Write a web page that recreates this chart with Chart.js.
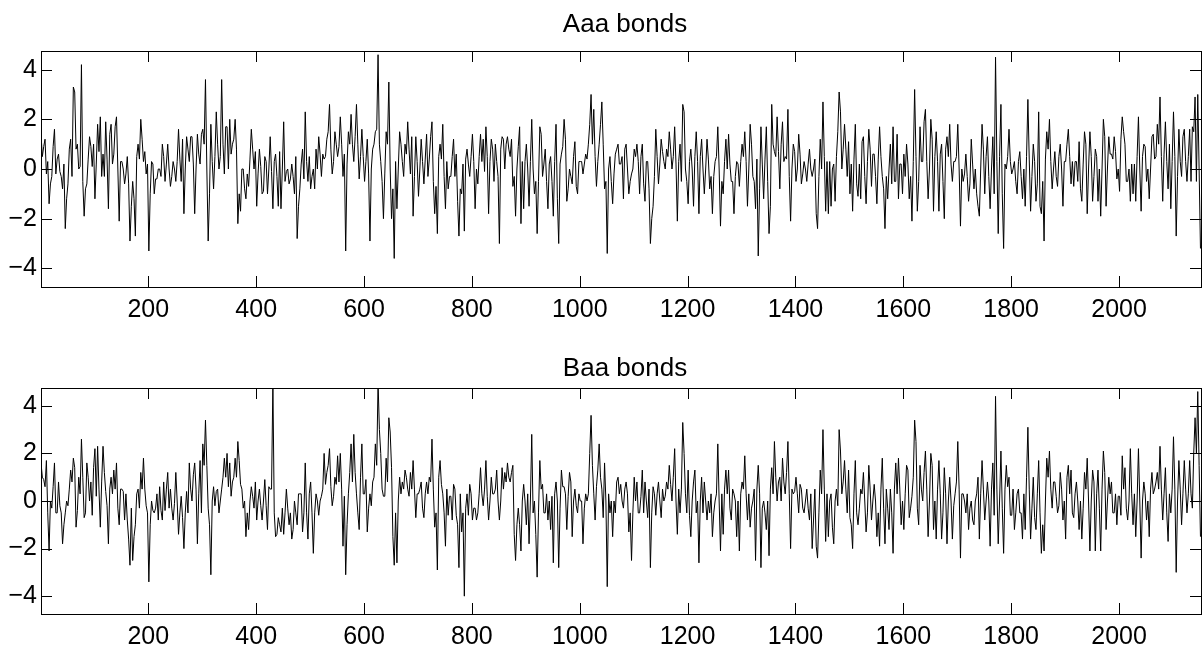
<!DOCTYPE html>
<html>
<head>
<meta charset="utf-8">
<title>Aaa and Baa bonds</title>
<script src="https://cdn.jsdelivr.net/npm/chart.js@4.4.0/dist/chart.umd.min.js"></script>
<style>
  body { margin: 0; background: #fff; width: 1202px; height: 646px; overflow: hidden; }
  canvas { position: absolute; left: 0; }
  #aaaChart { top: 0; }
  #baaChart { top: 326px; }
</style>
</head>
<body>
<canvas id="aaaChart" width="1202" height="330"></canvas>
<canvas id="baaChart" width="1202" height="320"></canvas>
<script>
// observation number of the k-th value = 1 + obsStep * k,
// the k-th "mid" value sits half a step later
const obsStep = 5;
const xTicks = [200, 400, 600, 800, 1000, 1200, 1400, 1600, 1800, 2000];
const yTicks = [-4, -2, 0, 2, 4];

const aaaVals = [
  1.4, 0.9, -0.2, -1.4, -0.3, 1.6, 0.4, -0.1, -0.8, -2.4,
  -0.6, 1.2, 3.3, 0.8, 0.0, 4.2, -1.9, -0.6, 1.3, 0.1,
  -1.2, 1.8, 2.1, 0.6, 1.9, -1.6, 1.8, 0.6, 2.1, -2.1,
  0.3, -0.6, 0.5, -2.9, -0.5, -2.7, 1.0, 2.0, 0.3, -0.2,
  -3.3, 0.3, -1.0, -0.4, 0.0, 1.0, -0.5, 1.0, -0.7, 0.3,
  -0.5, 1.6, -0.5, -1.8, 1.3, 0.3, 1.3, -1.8, 1.4, 0.2,
  1.6, 3.6, -2.9, 1.8, -0.8, 2.3, 0.0, 3.6, -0.2, 1.7,
  2.0, 1.0, 2.0, -2.2, -1.7, 0.0, -1.2, -0.7, 1.6, 0.0,
  -1.5, 0.8, -1.0, 0.5, -1.0, 1.3, -1.6, 0.6, -1.5, -1.6,
  1.9, -0.1, -0.6, 0.2, -1.0, -2.8, -0.8, 0.8, 2.3, -0.5,
  -0.8, 0.0, 0.8, 1.3, -0.3, 0.4, 1.2, 2.6, -0.2, 1.5,
  0.5, 2.1, -0.3, -3.3, 1.5, 2.2, 0.3, 2.6, -0.4, 1.6,
  -0.5, 1.2, -2.9, 0.8, 1.5, 4.6, 0.3, -2.0, 1.5, 3.5,
  -2.0, -3.6, -1.6, 1.5, 0.3, 1.0, 1.9, -0.2, -1.9, 1.3,
  -1.1, 1.2, -0.6, 1.4, 0.4, 1.9, -1.8, -2.6, 1.0, 1.8,
  -1.6, -0.8, -0.3, 1.2, 0.6, -2.7, -1.0, -2.5, 0.8, -0.3,
  1.4, -1.6, -0.6, 1.4, 1.2, 1.7, -1.8, 1.2, -0.5, 0.3,
  -3.0, 1.3, 0.0, 1.3, 0.5, -0.7, -1.9, 0.9, -2.2, -1.6,
  1.0, -1.5, 2.0, -1.0, -2.6, 1.7, -0.3, 0.8, -1.6, 0.5,
  -1.9, 1.8, -3.0, 0.6, 2.0, -1.3, 0.0, -0.6, 1.1, -1.0,
  0.3, -0.2, 0.6, 1.0, 3.0, 2.4, -0.7, 1.0, 2.7, -0.8,
  -3.4, 0.5, -1.4, 0.6, 1.0, 0.2, -1.2, 1.0, -1.0, -0.2,
  0.8, 1.0, -1.0, 1.0, -1.3, 0.3, -3.0, -1.5, 1.6, -0.6,
  1.2, 0.3, 0.8, 1.5, 0.0, 1.7, -2.1, 1.0, 2.6, 0.0,
  -1.4, 0.8, -1.5, 1.5, -1.8, 1.2, -1.0, 1.2, -0.8, -1.8,
  0.3, 1.7, -2.3, -1.0, 1.2, 1.4, -0.5, -1.8, 0.3, -0.7,
  1.0, 1.5, -1.5, 1.8, -0.3, -1.6, -3.5, 1.7, -1.2, 1.7,
  -2.6, 2.6, 0.7, 2.1, -0.8, 1.9, 0.5, 2.4, -2.1, 1.0,
  -0.5, 1.4, -0.6, 0.3, -0.5, 0.8, -0.3, 0.4, -2.4, 1.2,
  2.7, -1.7, -1.8, -1.5, 0.2, 0.5, 3.1, 0.0, 1.8, -0.3,
  -1.0, -1.7, 1.8, -1.1, -1.2, 1.3, -1.4, 1.6, -0.7, 0.6,
  -1.4, 1.7, -0.3, -2.4, -1.2, 1.0, 1.7, -0.5, -1.2, 0.2,
  0.6, 1.0, -1.2, -2.1, 3.2, -1.7, 1.7, 0.3, 2.4, -1.2,
  2.0, -1.7, 1.5, -1.7, 1.0, -2.0, 1.3, 1.8, -0.5, 0.3,
  1.8, -2.3, -0.5, 0.6, -1.3, 1.2, -0.8, -1.0, -1.9, 1.8,
  -1.0, 1.3, -1.6, 1.3, 4.5, -2.6, 2.6, -3.2, 0.0, 1.6,
  -0.2, 0.3, -1.0, 0.7, -1.2, -1.5, 2.8, -1.7, 1.0, -1.3,
  2.3, -1.8, -2.9, 1.5, 2.0, -0.8, 0.7, -0.7, 1.0, -1.5,
  0.3, 1.6, -0.6, -0.7, 0.3, 1.1, -1.3, 1.5, -1.8, 1.5,
  -1.3, 0.8, -1.3, -1.9, 2.0, -1.5, 1.3, 0.6, 1.3, -0.4,
  -0.9, 2.1, 1.0, -0.5, -1.3, -1.0, -1.3, 2.1, -1.7, 1.0,
  -0.5, -1.2, 1.3, 0.4, 1.8, 2.9, -1.3, 1.9, -0.8, -1.6,
  2.3, -2.7, 1.6, -0.3, 1.6, -0.5, 1.6, 1.7, 2.9, 3.0,
  -3.2
];

const aaaMidVals = [
  0.5, 1.2, 0.3, -0.6, 0.9, -0.2, 0.6, -0.3, 0.2, -1.2,
  0.8, -0.3, 3.1, 1.0, 0.1, -0.5, -0.8, 0.4, 0.9, 1.0,
  0.2, 0.7, -0.3, -0.3, 0.4, 1.4, 0.2, 1.7, 0.0, 0.3,
  0.0, -0.2, -0.6, -1.5, -1.2, 0.5, 0.4, 1.2, 0.7, 0.2,
  -1.0, 0.2, -0.4, 0.0, -0.3, 0.5, 0.2, 0.0, -0.3, 0.0,
  0.3, 0.4, 1.2, 0.0, 0.8, 1.3, 0.2, 0.0, 0.6, 1.4,
  1.0, 0.0, -1.0, 0.3, 0.5, 1.0, 0.5, 1.0, 1.7, 0.0,
  0.6, 1.2, 0.8, -1.0, 0.0, -0.8, -0.2, 0.4, 0.8, 0.7,
  -0.2, 0.1, -0.9, 0.3, 0.0, -0.1, 0.3, -0.3, 0.7, 0.0,
  -0.5, 0.0, -0.4, -0.3, 0.5, -1.5, 0.2, -0.4, 0.3, 0.5,
  -0.3, -0.8, 0.0, 0.6, 0.6, 0.5, 1.5, 0.8, 0.3, 1.0,
  0.9, 1.0, 0.6, 0.2, 1.0, 1.0, 1.3, 1.0, 0.5, 0.5,
  0.3, -0.2, 0.0, 1.0, 1.6, 1.0, -0.5, -0.2, 1.0, 0.0,
  -0.8, 0.3, 0.0, 1.0, -0.3, 0.6, 0.8, 1.3, -0.3, 0.3,
  0.0, 0.3, 0.4, -0.3, 1.3, -0.5, -0.7, 0.5, 0.4, -0.3,
  0.3, -0.3, 0.5, -0.3, -1.3, -0.8, 0.2, 0.4, 0.2, 0.5,
  0.3, 0.0, 0.5, 0.3, -0.1, 0.5, 0.3, 0.8, 1.0, -0.3,
  0.8, 1.2, 1.0, 0.8, 1.2, -0.3, 0.0, 1.7, 0.3, 0.3,
  0.0, 0.3, 0.0, -0.5, -0.5, 1.4, 0.2, -0.5, 0.2, -0.5,
  0.3, -1.2, 0.2, 0.9, 1.2, -0.8, -0.3, 0.5, -0.7, 0.3,
  0.3, 0.2, 0.4, 1.8, 1.0, 0.5, 0.3, 1.8, 1.0, -0.5,
  0.0, -0.5, -0.2, 0.8, 0.2, 0.5, 0.8, 0.0, -0.5, 0.0,
  0.5, 0.3, 0.5, -0.6, 0.3, -0.8, -2.0, -0.3, 0.5, 0.2,
  0.7, 0.0, 0.5, 0.8, 0.5, 0.2, 0.3, -0.5, 2.3, -0.5,
  0.3, 0.0, 0.5, 0.3, 0.5, 0.0, 0.0, 0.4, -0.3, -0.3,
  0.5, 0.0, -0.5, 0.3, 0.0, 0.2, -0.5, -0.3, 0.2, 0.3,
  0.5, 0.3, 0.0, 1.0, -0.5, 0.4, -0.8, 0.2, 0.4, -0.5,
  -1.5, 1.0, 0.5, 0.7, 1.0, 0.3, 0.4, -0.3, 0.0, 0.7,
  0.0, 0.6, -0.2, 0.0, 0.2, 0.0, 0.0, -1.8, -0.3, 0.0,
  0.5, 0.3, 0.3, 0.0, -1.3, 1.5, 2.3, 0.8, 0.8, 1.1,
  0.2, 0.4, -0.6, 0.2, 1.1, -0.3, 0.3, 0.8, 0.6, -0.3,
  0.4, 0.5, -0.8, -0.3, 0.0, -0.6, -0.5, 1.4, 0.2, -1.0,
  -0.3, 0.2, -0.3, 0.3, 0.5, -0.5, 0.3, 1.9, 0.3, 0.0,
  1.2, 0.5, 0.3, 0.6, -0.5, 0.8, 0.5, 0.2, 0.3, 0.5,
  0.0, 0.0, -0.2, -0.3, -0.6, 0.2, 0.0, -1.5, 0.0, 0.8,
  0.5, -0.3, 0.0, -1.0, 0.3, 0.5, -1.0, 0.2, 0.5, 0.3,
  0.0, -0.5, 0.3, -0.3, 0.0, 0.5, 0.4, -0.3, 0.3, -0.6,
  -1.5, -0.5, 0.4, 0.8, 0.3, 0.0, -0.3, 0.5, 0.0, 0.3,
  1.0, 0.5, 0.3, 0.3, -0.5, -0.8, 0.2, 1.0, 0.0, 0.5,
  -0.3, 0.5, 0.0, 0.0, 1.3, 0.0, 0.6, 0.4, 0.7, 0.0,
  1.2, 1.5, -0.5, 0.0, 0.2, 0.2, 0.5, 0.0, 0.5, 0.9,
  0.0, 0.0, 1.4, 0.5, 1.0, 0.5, 0.6, 0.3, 1.0, 0.3,
  0.5, -0.3, 0.3, 1.3, 0.3, 0.5, -0.5, 1.5, -0.5, 0.0
];

const baaVals = [
  1.6, 0.9, 1.7, -2.1, -0.3, 1.6, -0.5, -0.2, -1.8, -0.5,
  -0.2, 1.3, 1.8, -1.1, 1.0, 2.6, -0.7, 1.6, 0.0, -0.6,
  2.2, 2.3, -1.1, 2.3, 0.4, -1.8, 1.0, 1.3, 1.6, -1.0,
  0.5, -0.8, -0.8, -2.7, -2.5, -1.0, 0.5, 1.2, 1.8, -0.2,
  -3.4, 0.0, -0.5, 0.3, 0.6, -0.8, -0.4, 1.2, 0.5, -0.8,
  1.2, -1.4, 0.2, -2.0, 0.4, 1.6, 0.0, 1.6, -1.8, 1.7,
  2.4, 3.4, -0.3, -3.1, 0.6, 0.4, -0.5, 0.5, 1.8, 2.0,
  1.6, 0.8, 1.8, 2.5, 0.7, -0.3, -1.5, -1.2, 0.6, -0.3,
  -0.8, 0.5, -0.8, 0.9, -1.2, 0.5, 5.0, -1.5, -0.7, -1.3,
  -1.4, 0.5, -1.0, -1.6, 0.0, -1.0, 0.3, -1.3, 1.6, -1.6,
  0.8, -2.2, 0.3, -0.6, 0.2, 2.0, 1.2, 2.2, -0.2, 1.0,
  1.9, 2.0, -1.9, -3.1, 0.3, 2.4, 2.8, 0.3, -1.2, 2.4,
  0.3, -1.3, 0.3, 0.8, 2.4, 5.0, 2.0, 0.2, 1.8, 3.5,
  1.4, -2.7, -2.6, 1.0, 0.8, 1.3, 0.5, 1.2, 1.7, -0.7,
  0.3, 0.8, -0.7, 0.8, 1.0, 2.6, -1.1, -2.9, 1.7, 0.3,
  -1.9, -0.6, 0.2, 0.7, -0.6, -2.8, -1.3, -4.0, 0.3, 0.7,
  -0.8, -0.3, -0.5, 1.4, -0.2, 1.7, -0.8, 1.0, 0.3, 1.3,
  -0.8, 1.4, 1.2, 1.6, 0.8, 1.5, -2.5, -0.3, -2.1, 0.7,
  -1.0, -1.8, 2.8, 0.0, -3.2, 1.7, 0.7, -0.5, -0.8, -1.2,
  -2.6, 0.8, -2.8, 1.3, 0.6, -1.2, 1.2, -1.5, 0.5, -0.5,
  0.0, -1.8, 0.3, 0.3, 3.6, 0.3, 0.6, 2.4, 0.5, 1.6,
  -3.6, -0.5, -1.5, -0.5, 1.0, 0.7, -0.3, 0.8, -1.3, -2.5,
  1.0, 0.8, -0.5, 1.3, 0.8, -0.7, -2.8, 0.6, -0.6, 0.8,
  -0.7, 0.0, 0.8, 1.5, 0.0, 2.2, -1.4, -0.5, 3.3, 0.3,
  1.3, -1.5, 0.8, -0.5, -2.6, 1.0, 0.8, -0.8, -0.5, -1.5,
  0.0, 2.4, -2.1, -1.4, 1.3, 1.3, -0.8, 0.3, -1.5, -2.1,
  0.8, 1.9, -0.8, -1.1, 0.0, -2.5, 1.5, -2.8, 0.0, -1.2,
  -2.3, 1.4, 2.5, 0.0, 1.0, 1.8, 0.3, 2.5, -2.0, 0.3,
  1.0, -0.5, 0.5, -0.5, 0.5, -0.8, -2.0, 0.5, -2.4, 1.3,
  3.0, -1.7, -1.5, 0.3, -1.8, 0.5, 3.0, 0.3, 1.7, -0.5,
  -0.7, -2.0, 1.7, -1.0, 0.5, 1.2, -1.3, 1.5, -0.8, 0.7,
  -1.5, -1.9, 1.8, -1.8, -0.3, 0.5, -2.2, 1.6, 1.8, -1.0,
  -1.2, 1.5, -0.7, 0.2, 3.4, -0.3, 1.5, 0.0, 2.1, -1.5,
  2.0, -1.2, -1.6, 1.7, -1.6, 1.4, -1.8, 1.0, -1.6, 0.3,
  2.5, -2.4, 0.3, -0.5, -1.2, 0.0, -1.0, 0.3, -1.6, 1.7,
  -0.8, 0.8, -1.9, 1.6, 4.4, -1.8, 2.1, -2.2, 1.5, 1.0,
  -0.6, -1.2, 0.3, -0.5, -1.6, -1.2, 3.1, -1.6, 1.0, -1.2,
  1.7, -2.2, -2.1, 1.8, 2.1, -0.3, 0.8, -0.5, 1.2, -0.8,
  -1.6, 1.5, 1.3, -0.7, 0.8, -1.2, -1.6, 1.2, 1.8, -2.1,
  1.3, -2.1, 1.3, -2.1, 2.1, -1.2, 1.0, 0.8, -0.5, -1.0,
  0.2, 1.9, 1.4, -0.8, 2.2, -1.0, -1.5, 2.2, -2.4, 0.8,
  -0.8, -1.5, 1.2, 0.5, 1.2, 2.3, -0.8, 1.4, -1.7, -0.5,
  2.7, -3.0, 1.7, -1.0, 1.7, -0.5, 1.7, -0.3, 3.5, 4.6,
  -1.5
];

const baaMidVals = [
  1.0, 0.6, -0.5, 0.0, 0.6, -0.5, 0.8, -0.5, -1.0, 0.0,
  0.5, 0.8, 1.4, -0.4, 0.3, 1.0, -0.5, 1.0, 0.8, 1.4,
  0.2, 0.5, 0.8, 1.2, -0.2, 0.5, 0.3, 0.5, -0.3, 0.5,
  0.4, 0.3, -1.6, -0.3, -1.5, 0.3, -0.3, 0.5, 0.5, -0.5,
  -1.0, -0.4, -0.3, -0.8, -0.4, 0.8, 0.5, -0.3, -0.3, -0.1,
  0.0, -0.5, -0.7, -0.5, -0.5, 0.5, 1.1, 0.5, 0.3, -0.5,
  1.5, 1.5, -1.0, 0.0, -0.2, 0.5, 0.0, 1.0, 1.0, 0.6,
  0.2, 1.0, 1.0, 1.7, 0.5, 0.0, -0.5, 0.0, 0.2, 0.8,
  0.0, -0.2, 0.0, -0.2, 0.6, 0.5, -0.5, -1.4, -1.0, -0.3,
  -0.5, -0.3, -0.5, -1.2, -0.5, 0.3, 0.3, -0.5, -0.5, 0.3,
  -0.5, -0.5, 0.0, 0.0, 0.5, 0.7, 1.5, 0.6, 0.2, 0.7,
  0.8, 0.5, 0.2, -1.0, 1.2, 0.8, 1.2, -0.5, 1.0, 0.3,
  0.9, -0.3, -0.2, 1.0, 1.5, 3.0, 0.5, 0.2, 0.8, 2.9,
  -1.5, -0.5, 0.0, 0.3, 0.5, 1.0, 0.2, 0.5, 0.5, 0.3,
  0.5, -0.3, 0.3, 0.3, 0.8, 0.5, -0.5, 1.0, 0.7, -0.5,
  0.5, 0.2, -0.8, 0.5, -1.0, 0.3, -0.5, -0.3, -0.6, 0.3,
  -0.3, -0.8, 0.3, 0.3, 0.5, 0.2, 0.0, 0.3, 0.5, 0.0,
  0.0, 0.5, 0.8, 1.0, 1.2, -1.4, -1.0, -1.0, 0.0, 0.0,
  0.3, 0.0, -0.5, -1.4, -0.5, 0.5, -0.5, 0.3, 0.0, 0.2,
  0.3, 0.0, -0.3, 0.6, 0.3, 0.2, 0.8, 0.0, -0.2, 0.3,
  0.0, -0.3, 0.0, 2.0, 1.5, -0.8, 1.3, 1.0, -0.7, 0.0,
  0.3, 0.0, 0.0, 0.8, 0.3, 0.0, 0.5, 0.3, -0.5, -0.5,
  0.0, -0.5, 0.2, -0.5, 0.0, 0.5, -0.5, 0.3, 0.3, 0.0,
  0.5, 0.2, 0.5, 0.7, 1.0, 0.0, 0.5, 0.5, 2.0, -0.5,
  -0.6, 0.0, 1.3, 0.0, 0.0, -0.5, 0.0, 0.0, 0.3, -0.5,
  0.3, 0.0, 0.3, 0.5, 0.3, -0.3, 0.5, 0.0, 0.0, 0.3,
  0.5, 0.3, 0.3, -0.3, 0.5, 0.5, 0.3, -0.3, -0.5, 0.0,
  0.5, 0.3, 1.0, 0.8, 0.0, 0.8, 1.2, 0.3, 0.5, 0.4,
  0.3, 0.7, -0.3, 0.0, -0.3, 0.3, -0.8, -1.9, -0.5, 0.3,
  0.5, 0.3, 0.0, -1.1, 0.0, -0.2, 2.1, 0.8, 0.5, 1.3,
  -1.0, 0.3, -0.5, -0.3, 0.3, 0.0, -0.5, 0.5, 0.0, 0.0,
  -0.5, 0.5, -0.3, 0.5, -1.2, -0.5, 0.5, 0.3, 0.5, 0.0,
  0.3, 1.3, -0.3, 1.0, 2.5, -1.0, 0.5, 1.2, 0.5, 0.0,
  1.5, 0.0, 0.5, 0.3, -0.5, 0.3, 0.0, 0.0, -0.2, 0.8,
  0.5, 0.3, 0.0, 0.3, -0.3, -0.8, 0.0, 1.0, 0.3, 0.5,
  0.0, 0.0, 0.5, -0.6, 0.5, 0.0, -0.3, 0.5, 0.6, -0.6,
  0.5, -0.5, 0.5, -0.5, 0.3, 1.0, 0.5, -0.3, -0.7, 0.3,
  -0.5, -1.0, 0.0, 1.0, 0.5, 0.8, 0.2, -0.2, 0.5, 0.0,
  1.0, 0.3, -0.5, 0.3, 0.0, 0.0, -0.3, 0.5, 0.0, 0.0,
  0.8, 0.3, -0.3, 0.5, 1.2, 0.0, 0.3, -0.5, 0.3, 0.2,
  -0.6, 0.5, -0.3, 0.0, 0.3, 0.3, 0.0, 0.0, 0.0, 0.3,
  0.0, 0.5, 0.3, 0.8, 0.5, 0.5, 0.3, -0.5, 0.3, 0.5,
  0.5, 0.0, 0.5, 0.3, 0.5, 0.3, 0.3, 2.0, 2.0, 1.5
];

const fontFamily = '"Liberation Sans", Arial, Helvetica, sans-serif';
const tickLen = 11;

// MATLAB-like frame: box, inward ticks on all four sides, title
const matlabAxes = {
  id: 'matlabAxes',
  afterDraw(chart, args, opts) {
    const ctx = chart.ctx;
    const a = chart.chartArea;
    const x = chart.scales.x;
    const y = chart.scales.y;
    ctx.save();
    ctx.strokeStyle = '#000';
    ctx.lineWidth = 1;
    ctx.beginPath();
    xTicks.forEach(v => {
      const px = Math.round(x.getPixelForValue(v)) + 0.5;
      ctx.moveTo(px, a.bottom);
      ctx.lineTo(px, a.bottom - tickLen);
      ctx.moveTo(px, a.top);
      ctx.lineTo(px, a.top + tickLen);
    });
    yTicks.forEach(v => {
      const py = Math.round(y.getPixelForValue(v)) + 0.5;
      ctx.moveTo(a.left, py);
      ctx.lineTo(a.left + tickLen, py);
      ctx.moveTo(a.right, py);
      ctx.lineTo(a.right - tickLen, py);
    });
    ctx.stroke();
    ctx.strokeRect(Math.round(a.left) + 0.5, Math.round(a.top) + 0.5,
      Math.round(a.right - a.left), Math.round(a.bottom - a.top));

    ctx.fillStyle = '#000';
    ctx.font = '26px ' + fontFamily;
    ctx.textAlign = 'center';
    ctx.textBaseline = 'alphabetic';
    ctx.fillText(opts.text, (a.left + a.right) / 2 + 4, opts.baseline);
    ctx.restore();
  }
};

function makePanel(canvasId, title, values, midValues, opts) {
  const points = [];
  values.forEach((v, k) => {
    points.push({ x: 1 + obsStep * k, y: v });
    if (k < midValues.length) {
      points.push({ x: 1 + obsStep * (k + 0.5), y: midValues[k] });
    }
  });
  return new Chart(document.getElementById(canvasId), {
    type: 'line',
    data: {
      datasets: [{
        label: title,
        data: points,
        borderColor: '#000',
        borderWidth: 1,
        pointRadius: 0,
        tension: 0,
        fill: false
      }]
    },
    options: {
      responsive: false,
      animation: false,
      devicePixelRatio: 1,
      events: [],
      layout: { padding: { top: opts.top, right: 1, left: 0, bottom: 0 } },
      plugins: {
        legend: { display: false },
        tooltip: { enabled: false },
        title: { display: false },
        matlabAxes: { text: title, baseline: opts.titleBaseline }
      },
      scales: {
        x: {
          type: 'linear',
          min: 1,
          max: 2152,
          grid: { display: false, drawTicks: false },
          border: { display: false },
          afterBuildTicks: s => { s.ticks = xTicks.map(v => ({ value: v })); },
          afterFit: s => { s.height = opts.xAxisHeight; },
          ticks: {
            color: '#000',
            font: { family: fontFamily, size: 25 },
            padding: 8,
            maxRotation: 0,
            autoSkip: false,
            callback: v => String(v)
          }
        },
        y: {
          min: -4.75,
          max: 4.75,
          grid: { display: false, drawTicks: false },
          border: { display: false },
          afterBuildTicks: s => { s.ticks = yTicks.map(v => ({ value: v })); },
          afterFit: s => { s.width = 41; },
          ticks: {
            color: '#000',
            font: { family: fontFamily, size: 25 },
            padding: 4,
            callback: v => (v < 0 ? '\u2212' + Math.abs(v) : String(v))
          }
        }
      }
    },
    plugins: [matlabAxes]
  });
}

makePanel('aaaChart', 'Aaa bonds', aaaVals, aaaMidVals, { top: 51, xAxisHeight: 43, titleBaseline: 31.5 });
makePanel('baaChart', 'Baa bonds', baaVals, baaMidVals, { top: 62, xAxisHeight: 32, titleBaseline: 49.5 });
</script>
</body>
</html>
